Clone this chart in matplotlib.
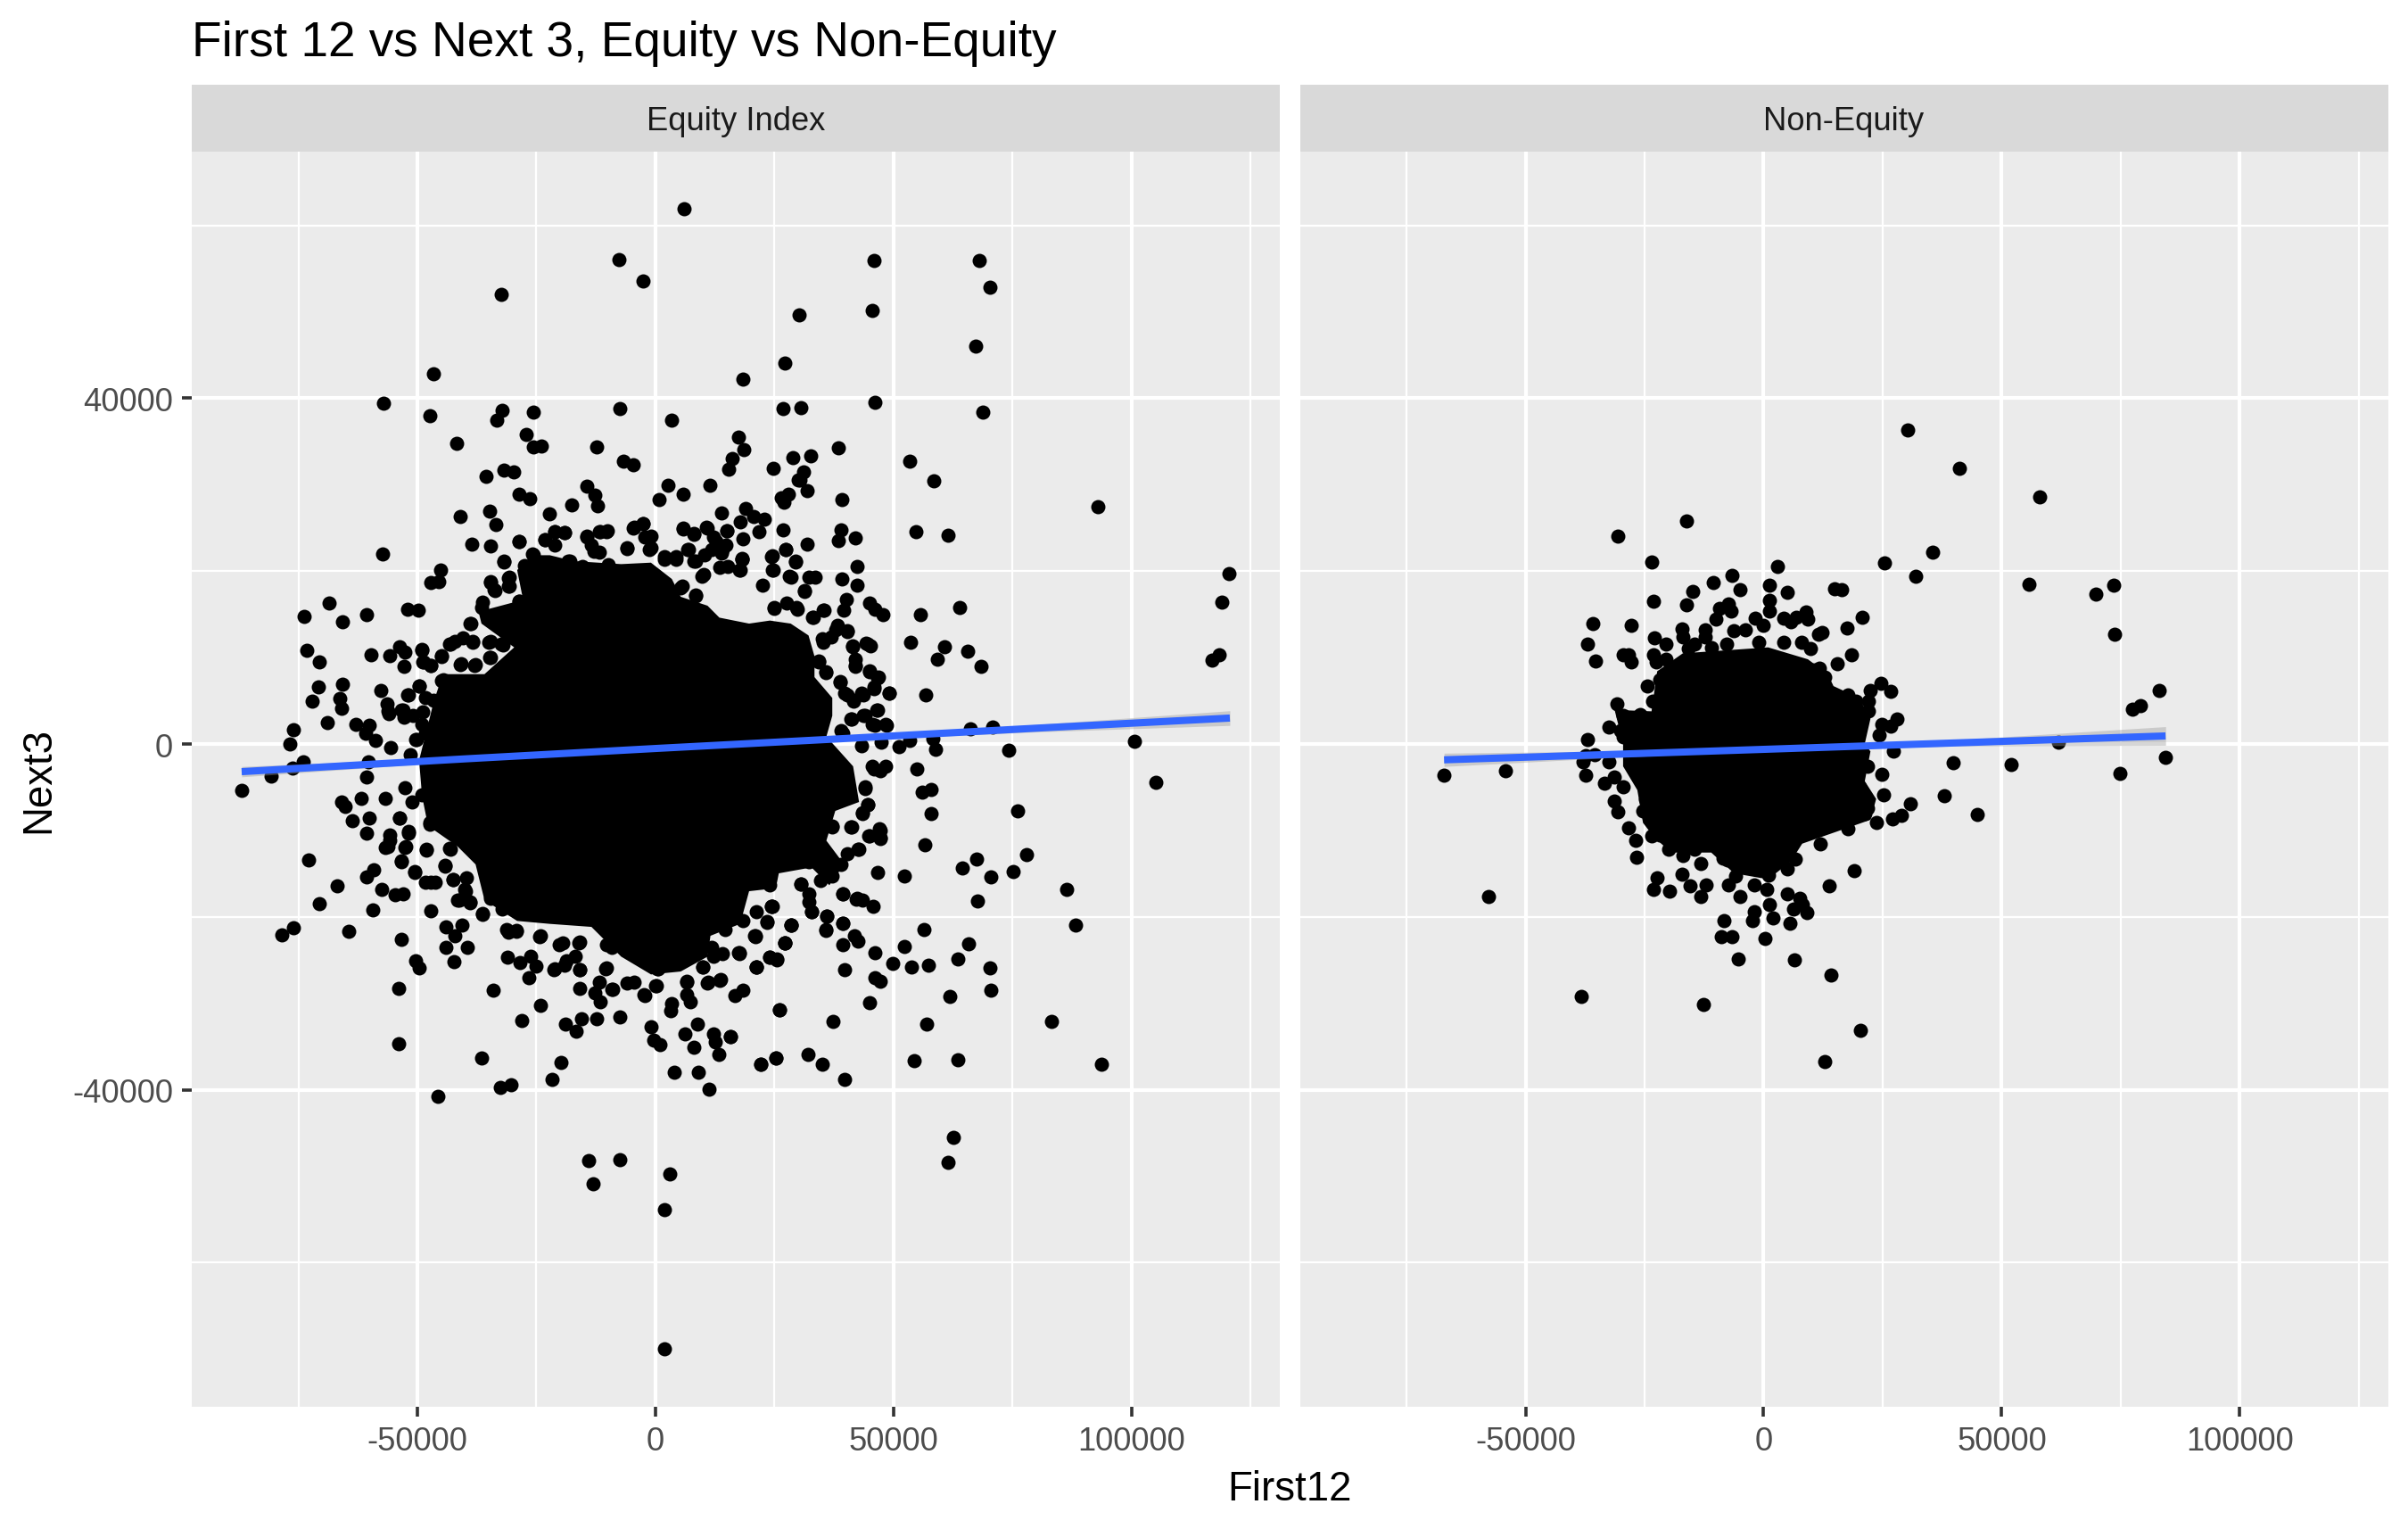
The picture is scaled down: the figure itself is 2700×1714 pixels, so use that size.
import numpy as np
import matplotlib
matplotlib.use("Agg")
import matplotlib.pyplot as plt

plt.rcParams['font.family'] = ['Liberation Sans', 'DejaVu Sans']

# values, (First12, Next3)
equity_points = [
    (6060,61960),(-7740,56060),(-2550,53590),(-32480,52030),(30220,49660),(27120,44110),(-46700,42850),(18260,42230),
    (-57060,39450),(-47450,38020),(-32230,38650),(-33240,37480),(-25710,38420),(-7570,38830),(3300,37480),(26870,38830),
    (30470,38960),(-41850,34800),(-27220,35830),(-25710,34350),(-23960,34490),(-12420,34400),(17340,35520),(18510,34080),
    (16170,33050),(15420,31760),(24780,31930),(28800,33140),(-31900,31710),(-29810,31490),(-35660,31000),(-6730,32700),
    (-4730,32340),(-14510,29790),(-12670,28800),(-12250,27590),(2540,29960),(5720,28940),(11490,29880),(700,28310),
    (-28720,28890),(-26380,28400),(-17690,27680),(-22370,26660),(-41090,26340),(-34910,26920),(-33570,25400),(13910,26740),
    (18930,27240),(20690,26340),(17840,25670),(22860,25980),(21690,24600),(14920,24640),(18340,23790),(26700,24780),
    (26450,28490),(27870,28890),(27040,28000),(30050,30590),(-21200,24550),(-19110,24460),(-23290,23660),(-14340,24060),
    (-11580,24550),(-10160,24640),(-12840,22310),(-4480,25090),(-2640,25540),(-880,24020),(-1220,22540),(-5900,22670),
    (5720,25000),(8060,24330),(10740,25090),(6810,22540),(-28720,23430),(-38500,23170),(-34660,22900),(-31900,21110),
    (-25800,21960),(-18270,21200),(-57230,22000),(-45190,20080),(-47280,18730),(-45440,18820),(-30810,19180),(-30810,18290),
    (-34660,18730),(-33910,17840),(-28720,16500),(-36250,16360),(-68600,16270),(-73700,14800),(-65700,14170),(-60740,14930),
    (-52130,15560),(-49790,15510),(-38750,13940),(-73280,10860),(-70520,9520),(-59820,10370),(-55890,10230),(-53800,11220),
    (-52550,10590),(-52880,9020),(-49120,10900),(-48950,9470),(-47280,9110),(-45020,10230),(-43350,11570),(-40430,12330),
    (-38340,11800),(-35000,11800),(-32070,11440),(-41000,9200),(-37920,9200),(-34740,10010),(-70770,6560),(-65670,6920),
    (-72110,5000),(-66260,5260),(-65920,4100),(-57730,6160),(-49710,6740),(-52130,5670),(-56390,4640),(-56060,3470),
    (-53380,3970),(-52720,3070),(-68850,2530),(-63000,2270),(-60070,2180),(-60910,1190),(-58820,390),(-55640,-370),
    (-76120,1640),(-76790,30),(-50460,520),(-46700,5080),(-48790,3740),(-45020,7320),(11820,22540),(13910,22090),
    (15170,20520),(18090,21420),(17670,20080),(8480,21190),(10150,19630),(12660,23430),(14750,22980),(1790,21640),
    (4300,21640),(5560,18290),(8480,17170),(-15350,20520),(-9910,20750),
    (45850,55960),(67890,55960),(70210,52880),(45460,50190),(67190,46030),(46160,39540),(68660,38420),(38400,34310),
    (32500,33370),(53300,32740),(58500,30460),(31180,31490),(30250,30590),(31800,29340),(39100,28310),(92800,27500),
    (54620,24600),(61370,24190),(38940,24780),(38320,23520),(41890,23880),(31800,23170),(42280,20570),(27300,22540),
    (24590,21730),(29400,21110),(18150,21330),(24590,20080),(28080,19410),(32190,19320),(33510,19320),(39100,19050),
    (42280,18420),(31340,17700),(120500,19670),(118870,16360),(40030,16720),(39490,15510),(44920,16270),(46080,15600),
    (47710,14930),(55550,14930),(63770,15820),(35300,15510),(32970,14700),(24970,15690),(29860,15600),(38170,13680),
    (40260,13000),(35140,11800),(53530,11800),(60750,11260),(65480,10770),(41350,11350),(44140,11660),(45150,11350),
    (59270,9830),(68430,9020),(118400,10370),(116800,9690),(34210,9560),(41890,9110),(35680,8310),(44920,8440),
    (46550,7680),(38710,7190),(56710,5710),(39720,5850),(41660,5090),(43210,5850),(49030,5890),(45930,6650),
    (46550,3970),(41040,2940),(43600,3300),(48490,2180),(46000,2180),(66020,1730),(70760,1950),(100480,340),
    (74100,-730),(58730,-640),(58190,610),(51200,-280),(53300,390),(47320,160),(43210,-190),(39330,1280),
    (-80800,-3700),(-76200,-2800),(-73900,-2050),(-86900,-5350),(-60240,-2050),(-60740,-3800),(-65920,-6700),(-65250,-7200),
    (-61740,-6300),(-56730,-6300),(-52550,-5050),(-63670,-8850),(-60160,-8550),(-60740,-10300),(-55890,-10550),(-56730,-11950),
    (-52550,-11950),(-53800,-8550),(-51880,-10300),(-48200,-12200),(-47360,-9300),(-43350,-12050),(-72860,-13400),(-53380,-13550),
    (-44190,-14050),(-59240,-14550),(-60740,-15400),(-50620,-14800),(-48370,-15950),(-46280,-15950),(-42520,-15650),(-66930,-16450),
    (-57400,-16800),(-54640,-17450),(-52970,-17350),(-40010,-16800),(-41260,-18050),(-38920,-18300),(-70610,-18450),(-59400,-19150),
    (-47200,-19250),(-36250,-19650),(-76120,-21250),(-78550,-22050),(-64500,-21650),(-44020,-21200),(-40680,-20950),(-42100,-22150),
    (-53380,-22650),(-44020,-23500),(-39590,-23500),(-42350,-25150),(-50290,-25050),(-49540,-25900),(-53970,-28250),(-53970,-34650),
    (-36500,-36300),(-34160,-28450),(-30980,-21800),(-29140,-21700),(-31150,-24700),(-28470,-25300),(-26210,-24550),(-25130,-25700),
    (-26630,-27050),(-24290,-22300),(-21200,-26050),(-18690,-25050),(-15930,-26150),(-19530,-23050),(-16180,-23050),(-15930,-28300),
    (-11830,-27550),(-12670,-28800),(-11580,-29800),(-10330,-25900),(-9070,-28400),(-4480,-27550),(-2390,-29050),(120,-27950),
    (540,-26050),(-24120,-30200),(-28140,-31950),(-18940,-32450),(-15600,-31800),(-16600,-33200),(-12420,-31800),(-7570,-31550),
    (-970,-32700),(-300,-34300),(960,-34800),(3300,-30050),(3220,-30900),(6140,-33550),(8730,-32450),(8060,-35050),
    (6560,-27450),(6560,-29050),(7390,-29800),(10990,-27550),(13500,-27300),(9900,-25800),(12240,-33550),(12490,-34450),
    (15670,-33800),(13250,-35950),(16590,-29150),(18350,-28450),(26040,-30800),(17510,-24200),(21100,-25800),(20850,-22200),
    (27120,-23050),(28550,-20900),(24360,-18800),(23940,-24650),(25450,-24950),(-19780,-36800),(-21780,-38850),(-30400,-39400),
    (-32650,-39700),(-45780,-40750),(3880,-37950),(9070,-37950),(11160,-39900),(22020,-37100),(25200,-36300),(-14090,-48150),
    (-7570,-48050),(-13170,-50850),(2960,-49700),(1790,-53850),(1790,-70000),
    (105100,-4400),(76110,-7700),(77820,-12750),(75030,-14750),(70370,-15350),(67340,-13300),(64400,-14300),(86280,-16800),
    (88220,-20900),(67580,-18150),(52210,-15250),(46550,-14850),(56480,-11650),(57800,-8000),(56010,-5550),(57950,-5250),
    (54850,-2900),(48250,-2550),(45540,-2550),(47090,-9800),(47170,-10900),(44760,-10650),(42670,-12150),(41110,-9550),
    (44610,-7050),(43370,-8050),(43990,-5150),(37160,-9550),(39330,-17300),(42050,-17950),(43370,-18050),(45620,-18800),
    (30560,-16200),(32730,-19450),(35920,-19900),(39250,-20700),(35680,-21550),(56320,-21450),(28390,-20900),(23500,-20550),
    (24430,-18750),(20940,-22200),(27070,-23000),(39410,-23200),(41810,-22150),(42590,-22850),(52210,-23400),(65710,-23100),
    (46000,-24200),(63460,-24850),(17600,-24200),(23970,-24650),(25520,-24900),(21090,-25750),(39640,-26150),(49730,-25350),
    (53840,-25800),(57250,-25550),(70210,-25950),(46080,-27050),(47170,-27400),(70370,-28450),(61750,-29250),(44920,-29900),
    (25980,-30800),(37230,-32050),(56870,-32450),(83100,-32050),(15660,-33800),(25210,-36300),(22030,-37100),(31960,-35950),
    (34980,-37000),(39640,-38850),(54230,-36600),(63460,-36500),(93570,-37000),(62530,-45550),(61370,-48450),
]

equity_rim = [
    (-31860,21050),(-28740,23460),(-25620,21840),(-23250,23630),(-19070,24490),(-21250,24600),(-21250,23050),(-14390,23980),
    (-13450,23050),(-11890,24600),(-10330,24600),(-11890,22190),(-4710,25010),(-2530,25460),(-2220,23910),(-970,22700),
    (-5960,22640),(-27490,20640),(-17940,21160),(-34670,18750),(-30740,19260),(-30740,18230),(-33730,17720),(-36540,15820),
    (-28740,16510),(-39040,13930),(-42150,11870),(-38410,11870),(-43090,11520),(-34670,11870),(-32480,11520),(-44960,10150),
    (-49020,10830),(-34670,9980),(-48710,9460),(-47150,9120),(-40910,9290),(-38100,9120),(-44650,7400),(-49650,6710),
    (-51830,5680),(-48390,5330),(-56190,3800),(-53070,3960),(-52450,3270),(-50890,3270),(-49020,2240),(-50270,520),
    (-48390,1200),(-51520,-1200),
    (5740,24870),(8110,24250),(10790,25010),(14970,24700),(12160,23910),(6860,22530),(10290,21840),(14040,22530),
    (8110,21160),(18090,21330),(17780,20120),(9670,19440),(13410,20470),(1870,21330),(4360,21330),(5300,18060),
    (8420,17200),(22460,18400),(24330,21670),(24640,20120),(27330,22530),(29320,21090),(28390,19260),(31200,17720),
    (24960,15820),(29640,15820),(27450,16340),(33070,14620),(35380,15480),(34940,12210),(37750,13240),(40240,13070),
    (36810,12380),(41300,11280),(44610,11520),(41930,9800),(41930,8940),(34190,9460),(35750,8260),(44920,8360),
    (46800,7740),(38810,7160),(40240,5680),(43680,5680),(45860,6360),(49050,5850),(46480,3960),(41490,4990),
    (41180,2920),(43990,3270),(48360,2240),(45550,2240),(39000,1550),
    (47110,-3100),(45860,-2920),(43990,-4990),(44610,-7050),(43360,-7910),(37120,-9460),(41060,-9560),(47110,-9980),
    (47110,-10840),(44920,-10660),(42550,-12140),(40240,-12730),(32130,-13590),(39000,-13930),(37120,-15310),(34630,-15820),
    (30570,-16170),(32130,-17370),(32130,-18230),(32760,-19440),(39310,-17300),(42240,-17890),(24460,-18750),(24020,-16340),
    (21210,-19440),(23400,-20640),(35880,-19880),(35690,-21500),(39310,-20710),(28390,-20920),(18410,-20470),(20900,-22290),
    (14660,-21500),(27140,-23050),(17590,-24250),(14040,-24250),(11850,-23560),(12160,-24600),(9980,-25800),(6550,-27520),
    (10920,-27620),(13720,-27210),(21090,-25800),(6550,-24600),(2800,-24600),(310,-25970),(0,-27930),
    (-53700,-8600),(-51830,-10150),(-49020,-5850),(-51200,-6710),(-47460,-9120),(-55880,-11180),(-56190,-11870),(-52450,-11870),
    (-48210,-12280),(-43090,-12140),(-53390,-13590),(-44210,-14100),(-50580,-14860),(-47150,-15990),(-42470,-15650),(-39660,-15480),
    (-39970,-17030),(-41660,-18060),(-39040,-18340),(-34670,-17890),(-36350,-19680),(-32170,-19090),(-31230,-21500),(-29240,-21570),
    (-24240,-22190),(-20310,-23220),(-15950,-22880),(-16880,-24600),(-19070,-25630),(-21380,-26080),(-15950,-26140),(-10450,-25970),
    (-9090,-23560),(-9090,-28380),(-5960,-27690),(-2220,-29070),(-3470,-23910),(-10330,-23220),(-22190,-19780),
]

nonequity_points = [
    (30310,36360),(41180,31880),(57900,28620),(-16250,25830),(-30700,24080),(35450,22180),(25410,20980),(-23540,21080),
    (2850,20570),(31980,19430),(-6700,19530),(-10640,18670),(1300,18400),(-14820,17640),(-5030,17880),(4880,17540),
    (14910,17950),(16460,17880),(55630,18470),(69840,17330),(73530,18370),(-23060,16540),(-16130,16130),(-7420,16160),
    (-9210,15720),(1300,16580),(-6820,15370),(1180,15370),(-1690,14550),(-9930,14440),(4160,14550),(6910,14620),
    (8820,15240),(9300,14440),(5720,14100),(20640,14680),(0,13760),(-3840,13240),(-6220,13140),(17420,13410),
    (-35950,13930),(-27720,13760),(-17210,13310),(-12310,13240),(73770,12690),(12280,12900),(11450,12720),(-16970,12380),
    (-22940,12310),(-12210,12380),(-20550,11520),(-37030,11590),(-14580,11520),(-7780,11590),(-1090,11800),(4280,11800),
    (7870,11800),(9900,11000),(-11000,11180),(-15780,11000),(-29510,10350),(-28310,10320),(-27720,9460),(-35360,9630),
    (-23180,10320),(-22580,9460),(18370,10320),(15390,9280),(10490,8600),(24700,6980),(22430,6190),(26610,6080),
    (-24370,6700),(83090,6190),(79030,4470),(77480,4050),(-23300,4980),(-30820,4640),(21950,4980),(21950,3780),
    (27920,2920),(24820,2300),(26610,2060),(-32490,2000),(-36910,510),(24340,1030),(61830,170),(-29510,860),
    (27210,-860),(-37270,-1380),(-35480,-1280),(39750,-2170),(51920,-2340),(84280,-1550),(74730,-3410),(-67120,-3620),
    (-54220,-3100),(-37860,-2070),(-32490,-2070),(24820,-3510),(-37270,-3610),(-31300,-3780),(-33450,-4580),(-29510,-4990),
    (25180,-5850),(37950,-5950),(-31420,-6640),(-30700,-7810),(30790,-6950),(29000,-8260),(26970,-8670),(44880,-8120),
    (23630,-9120),(17660,-9800),(-28310,-9740),(-26880,-11180),(-23540,-10660),(11800,-11590),(-26640,-13070),(-19950,-12210),
    (-16970,-12900),(-13270,-13830),(-7660,-13420),(6670,-13350),(4880,-14450),(18970,-14650),(-22460,-15480),(-17210,-15030),
    (-15540,-16410),(-12070,-16270),(-23060,-16790),(-19840,-17000),(-13270,-17610),(-7420,-16340),(-5980,-15310),(-2040,-16270),
    (580,-16820),(940,-15140),(13710,-16380),(-5030,-17610),(4880,-17370),(7510,-17890),(8100,-18580),(6310,-19090),
    (9060,-19540),(1300,-18540),(-2040,-19440),(-2400,-20470),(1900,-20120),(5480,-20750),(-8250,-20400),(-8850,-22290),
    (-6700,-22290),(340,-22500),(-57690,-17650),(-5390,-24870),(6430,-24980),(14190,-26730),(-38220,-29210),(-12670,-30140),
    (20400,-33130),(12760,-36740),
    (-29510,3260),(-27720,2580),(-30110,1540),(-25930,3440),(21830,-2580),(20040,-4990),(21830,-7400),(21240,-8080),
    (-24730,-6360),(-25330,-7740),(-21750,-10490),(-18160,-11530),(-14580,-12210),(-8610,-13240),(-20550,9800),(-21750,7390),
    (-19950,6360),(11690,8770),(12880,7740),(17660,5670),(19450,4980),(20640,3260),
]

# the middle of each cloud is solid black, single points cannot be read there, so only its outline is kept
equity_core = [
    (-49640,-1890),(-46520,5000),(-44650,8080),(-35910,8080),(-29670,11180),(-36540,13930),(-37160,15310),(-27800,16680),
    (-29050,20120),(-25930,21840),(-22190,21840),(-17190,21160),(-7210,20810),(-970,20980),(3430,19090),(5300,17030),
    (10920,16000),(13410,14620),(19650,13930),(24020,14280),(28390,13930),(32130,12560),(33380,10150),(33380,7740),
    (37120,5330),(37120,3270),(35880,860),(41490,-2580),(42740,-6710),(37750,-7740),(35880,-11180),(39620,-13930),
    (36500,-16340),(32760,-14280),(25890,-14960),(25270,-16680),(19650,-17030),(17780,-20810),(11540,-22190),(10920,-24600),
    (5300,-26320),(-940,-26660),(-7210,-24600),(-13450,-21160),(-22190,-20810),(-29050,-20470),(-35910,-18060),(-37780,-13930),
    (-41530,-11870),(-47770,-9460),(-49020,-6020),
]
nonequity_core = [
    (-29510,30),(-31300,3950),(-23540,3780),(-22340,8420),(-16970,10490),(940,11180),(9300,9800),(13480,8080),
    (14670,6700),(20040,5330),(22430,2920),(21240,30),(22430,-860),(21240,-4300),(23630,-6360),(22430,-8770),
    (15270,-10150),(8100,-11530),(5720,-13590),(940,-15650),(-6220,-14960),(-11000,-12560),(-19360,-12560),(-22940,-10840),
    (-25330,-9120),(-26520,-5330),(-29510,-2580),
]

# fit line and its band, ends and a few places along it
equity_fit_x = [-86900, -40000, 0, 40000, 80000, 120600]
equity_fit_y = [-3200, -1720, -520, 640, 1830, 3000]
equity_fit_lo = [-3800, -1950, -680, 420, 1400, 2150]
equity_fit_hi = [-2600, -1490, -360, 860, 2260, 3850]
nonequity_fit_x = [-67100, -30000, 0, 40000, 84400]
nonequity_fit_y = [-1830, -1170, -620, 120, 930]
nonequity_fit_lo = [-2600, -1520, -820, -230, -150]
nonequity_fit_hi = [-1060, -820, -420, 470, 2010]

panel_names = ["Equity Index", "Non-Equity"]
x_major = [-50000, 0, 50000, 100000]
x_major_labels = ["-50000", "0", "50000", "100000"]
x_minor = [-75000, -25000, 25000, 75000, 125000]
y_major = [-40000, 0, 40000]
y_major_labels = ["-40000", "0", "40000"]
y_minor = [-60000, -20000, 20000, 60000]
x_range = (-97380, 131090)
y_range = (-76680, 68530)

W, H = 2700, 1715
fig = plt.figure(figsize=(W / 200, H / 200), dpi=200, facecolor='white')


def panel(left, name, points, core, fit_x, fit_y, fit_lo, fit_hi, show_y):
    ax = fig.add_axes([left / W, (H - 1578) / H, 1220 / W, 1407 / H], facecolor='#EBEBEB')
    ax.set_xlim(x_range)
    ax.set_ylim(y_range)
    ax.set_xticks(x_major)
    ax.set_xticklabels(x_major_labels)
    ax.set_xticks(x_minor, minor=True)
    ax.set_yticks(y_major)
    ax.set_yticklabels(y_major_labels)
    ax.set_yticks(y_minor, minor=True)
    ax.grid(which='major', color='white', linewidth=1.5)
    ax.grid(which='minor', color='white', linewidth=0.8)
    ax.set_axisbelow(True)
    for s in ax.spines.values():
        s.set_visible(False)
    ax.tick_params(which='major', length=4, width=1.3, color='#333333', labelsize=13.1,
                   labelcolor='#4D4D4D', pad=3.5, left=show_y, labelleft=show_y)
    ax.tick_params(which='minor', length=0)

    pts = np.array(points)
    ax.fill(*np.array(core).T, color='black', linewidth=0, zorder=2)
    ax.scatter(pts[:, 0], pts[:, 1], s=33, color='black', linewidths=0, zorder=3)
    ax.fill_between(fit_x, fit_lo, fit_hi, color='#999999', alpha=0.4, linewidth=0, zorder=4)
    ax.plot(fit_x, fit_y, color='#3366FF', linewidth=2.9, solid_capstyle='butt', zorder=5)

    # strip on top of the panel
    strip = fig.add_axes([left / W, (H - 171) / H, 1220 / W, 75 / H], facecolor='#D9D9D9')
    strip.set_xticks([])
    strip.set_yticks([])
    for s in strip.spines.values():
        s.set_visible(False)
    strip.text(0.5, 0.46, name, ha='center', va='center', fontsize=13.1, color='#1A1A1A',
               transform=strip.transAxes)
    return ax


panel(215, panel_names[0], equity_points + equity_rim, equity_core, equity_fit_x, equity_fit_y, equity_fit_lo, equity_fit_hi, True)
panel(1457.5, panel_names[1], nonequity_points, nonequity_core, nonequity_fit_x, nonequity_fit_y, nonequity_fit_lo, nonequity_fit_hi, False)

fig.text(215 / W, 1 - 63 / H, "First 12 vs Next 3, Equity vs Non-Equity", fontsize=19.8, color='black',
         ha='left', va='baseline')
fig.text(1446 / W, 1 - 1670 / H, "First12", fontsize=16.4, color='black', ha='center', va='center')
fig.text(43 / W, 1 - 875 / H, "Next3", fontsize=16.4, color='black', rotation=90, ha='center', va='center')

fig.savefig("out.png", dpi=200)
